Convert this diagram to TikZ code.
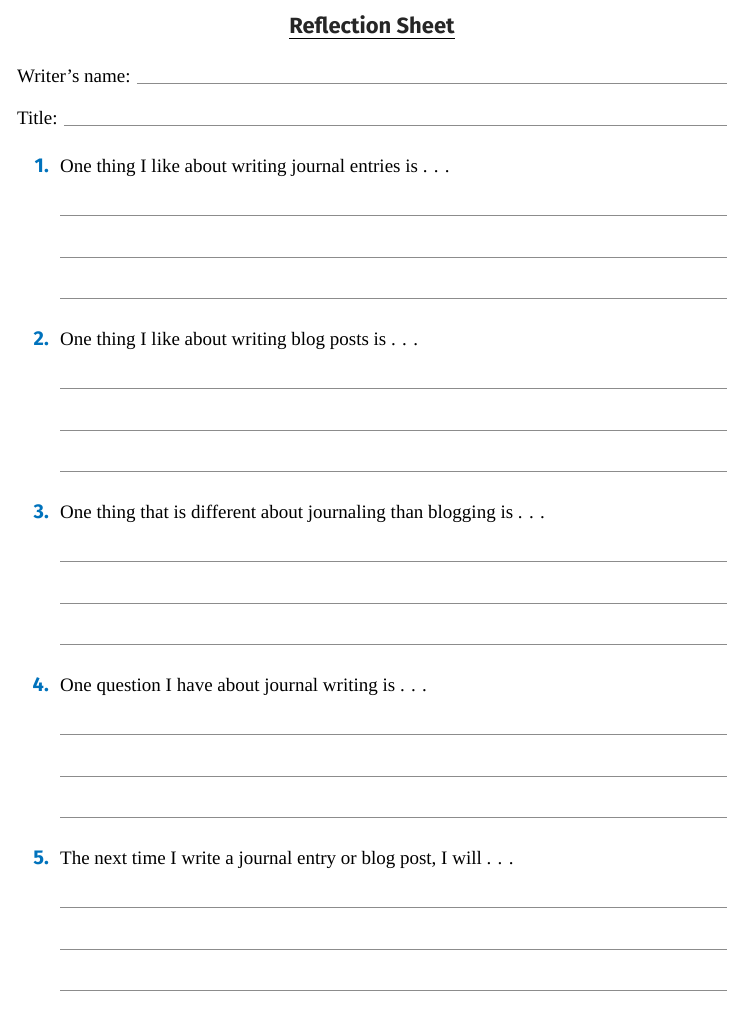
\documentclass[tikz,border=0pt]{standalone}
\usepackage{fontspec}
\setmainfont{Liberation Serif}
\newfontfamily\headfont{Fira Sans}
\definecolor{numblue}{RGB}{0,114,188}
\definecolor{rule}{RGB}{140,140,140}
\tikzset{
  txt/.style={anchor=base west,inner sep=0pt,font=\fontsize{19}{22}\selectfont},
  num/.style={anchor=base east,inner sep=0pt,font=\headfont\bfseries\fontsize{20}{23}\selectfont,text=numblue},
  wline/.style={draw=rule,line width=0.8pt}
}
\begin{document}
\begin{tikzpicture}[x=1pt,y=-1pt]
\useasboundingbox (0,0) rectangle (750,1009);
\node[anchor=base,inner sep=0pt,font=\headfont\fontsize{22}{25}\selectfont\bfseries,text=black!85] (title) at (372,33) {Reflection Sheet};
\draw[line width=1pt] (title.base west)++(0,5) coordinate (u1) -- (title.base east|-u1);
\node[txt] (wn) at (17,82) {Writer's name:};
\coordinate (wnend) at (727,83);
\draw[wline] (wn.east|-wnend) ++(6,0) -- (wnend);
\node[txt] (tt) at (17,124) {Title:};
\coordinate (ttend) at (727,125);
\draw[wline] (tt.east|-ttend) ++(6,0) -- (ttend);
\foreach \i/\t [count=\k from 0] in {1/{One thing I like about writing journal entries is . . .},
  2/{One thing I like about writing blog posts is . . .},
  3/{One thing that is different about journaling than blogging is . . .},
  4/{One question I have about journal writing is . . .},
  5/{The next time I write a journal entry or blog post, I will . . .}}{
  \pgfmathsetmacro\y{172+173*\k}
  \node[num] (n\i) at (49,\y) {\i.};
  \node[txt] (q\i) at (60,\y) {\t};
  \foreach \d in {43,85,126}{
    \coordinate (a\i\d) at (60,\y+\d);
    \coordinate (b\i\d) at (727,\y+\d);
    \draw[wline] (a\i\d) -- (b\i\d);
  }
}
\end{tikzpicture}
\end{document}
